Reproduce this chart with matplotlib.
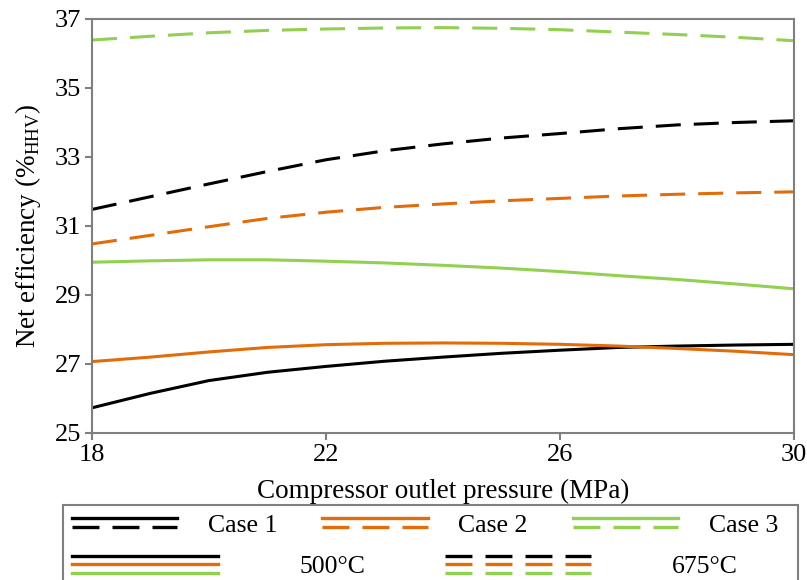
import numpy as np
import matplotlib
matplotlib.use('Agg')
import matplotlib.pyplot as plt
from matplotlib.lines import Line2D
from matplotlib.legend_handler import HandlerBase
from matplotlib.patches import Rectangle

plt.rcParams['font.family'] = ['Liberation Serif', 'DejaVu Serif']
plt.rcParams['mathtext.fontset'] = 'custom'
plt.rcParams['mathtext.rm'] = 'Liberation Serif'
plt.rcParams['lines.scale_dashes'] = False

# presión de salida del compresor (MPa)
presion = [18, 19, 20, 21, 22, 23, 24, 25, 26, 27, 28, 29, 30]

# eficiencia neta (%HHV)
caso1_500 = [25.73, 26.15, 26.52, 26.76, 26.93, 27.08, 27.20, 27.31, 27.40, 27.48, 27.52, 27.55, 27.57]
caso2_500 = [27.07, 27.20, 27.35, 27.48, 27.56, 27.60, 27.61, 27.60, 27.57, 27.52, 27.45, 27.37, 27.27]
caso3_500 = [29.95, 29.99, 30.02, 30.02, 29.98, 29.93, 29.86, 29.78, 29.68, 29.56, 29.45, 29.32, 29.18]
caso1_675 = [31.48, 31.85, 32.22, 32.58, 32.92, 33.18, 33.38, 33.55, 33.68, 33.82, 33.93, 34.00, 34.05]
caso2_675 = [30.48, 30.73, 30.98, 31.22, 31.40, 31.54, 31.64, 31.73, 31.80, 31.87, 31.92, 31.96, 31.99]
caso3_675 = [36.39, 36.50, 36.60, 36.67, 36.71, 36.74, 36.75, 36.73, 36.69, 36.62, 36.55, 36.47, 36.37]

casos = ['Case 1', 'Case 2', 'Case 3']
temperaturas = ['500°C', '675°C']
colores = ['#000000', '#E36C0A', '#92D050']

x_ticks = [18, 22, 26, 30]
y_ticks = [25, 27, 29, 31, 33, 35, 37]

DASH_PLOT = (0, (18, 9.4))
DASH_LEG = (0, (19.4, 9.4))
GRIS = '#7f7f7f'


class HandlerApilado(HandlerBase):
    """Dibuja varias líneas apiladas verticalmente como clave de leyenda."""

    def __init__(self, sep=6.4, **kw):
        super().__init__(**kw)
        self.sep = sep

    def create_artists(self, legend, orig_handle, xdescent, ydescent,
                       width, height, fontsize, trans):
        n = len(orig_handle)
        yc = height / 2 - ydescent
        artistas = []
        for i, h in enumerate(orig_handle):
            y = yc + (n - 1) / 2 * self.sep - i * self.sep
            ln = Line2D([-xdescent, -xdescent + width], [y, y],
                        color=h.get_color(), lw=h.get_linewidth(),
                        linestyle=h.get_linestyle())
            if h.get_linestyle() != '-':
                ln.set_dashes(DASH_LEG[1])
            ln.set_transform(trans)
            artistas.append(ln)
        return artistas


fig = plt.figure(figsize=(8.07, 5.80), dpi=100)
ax = fig.add_axes([92 / 807, 1 - 433 / 580, (794 - 92) / 807, (433 - 19) / 580])

series_500 = [caso1_500, caso2_500, caso3_500]
series_675 = [caso1_675, caso2_675, caso3_675]
for s, c in zip(series_500, colores):
    ax.plot(presion, s, color=c, lw=2.2, solid_capstyle='butt')
for s, c in zip(series_675, colores):
    ax.plot(presion, s, color=c, lw=2.2, linestyle=DASH_PLOT, dash_capstyle='butt')

ax.set_xlim(18, 30)
ax.set_ylim(25, 37)
ax.set_xticks(x_ticks)
ax.set_yticks(y_ticks)
ax.tick_params(direction='out', length=5, width=1.5, color=GRIS, labelsize=19, pad=3)
for sp in ax.spines.values():
    sp.set_color(GRIS)
    sp.set_linewidth(1.5)
ax.set_xlabel('Compressor outlet pressure (MPa)', fontsize=19.5, labelpad=9)
ax.set_ylabel(r'Net efficiency (%$_{\mathrm{HHV}}$)', fontsize=19.5, labelpad=8)

# leyenda: fila de casos (sólida + discontinua)
LW_LEG = 2.4
h_casos = [(Line2D([], [], color=c, lw=LW_LEG),
            Line2D([], [], color=c, lw=LW_LEG, linestyle='--')) for c in colores]
leg1 = fig.legend(h_casos, casos, handler_map={tuple: HandlerApilado(sep=6.5)},
                  loc='center left', bbox_to_anchor=(71.7 / 807, 1 - 524 / 580),
                  ncol=3, frameon=False, fontsize=18.5, borderpad=0, borderaxespad=0,
                  handlelength=4.1, handletextpad=1.2, columnspacing=1.75,
                  handleheight=1.0)

# leyenda: fila de temperaturas (tres colores apilados)
h_temp = [tuple(Line2D([], [], color=c, lw=LW_LEG) for c in colores),
          tuple(Line2D([], [], color=c, lw=LW_LEG, linestyle='--') for c in colores)]
leg2 = fig.legend(h_temp, temperaturas, handler_map={tuple: HandlerApilado(sep=6.3)},
                  loc='center left', bbox_to_anchor=(71.7 / 807, 1 - 565.5 / 580),
                  ncol=2, frameon=False, fontsize=18.5, borderpad=0, borderaxespad=0,
                  handlelength=5.7, handletextpad=3.15, columnspacing=3.1,
                  handleheight=1.0)

marco = Rectangle((63 / 807, -0.05), (798 - 63) / 807, (580 - 505) / 580 + 0.05,
                  transform=fig.transFigure, fill=False, edgecolor=GRIS, lw=1.5,
                  clip_on=False)
fig.add_artist(marco)

fig.savefig('out.png', dpi=100)
